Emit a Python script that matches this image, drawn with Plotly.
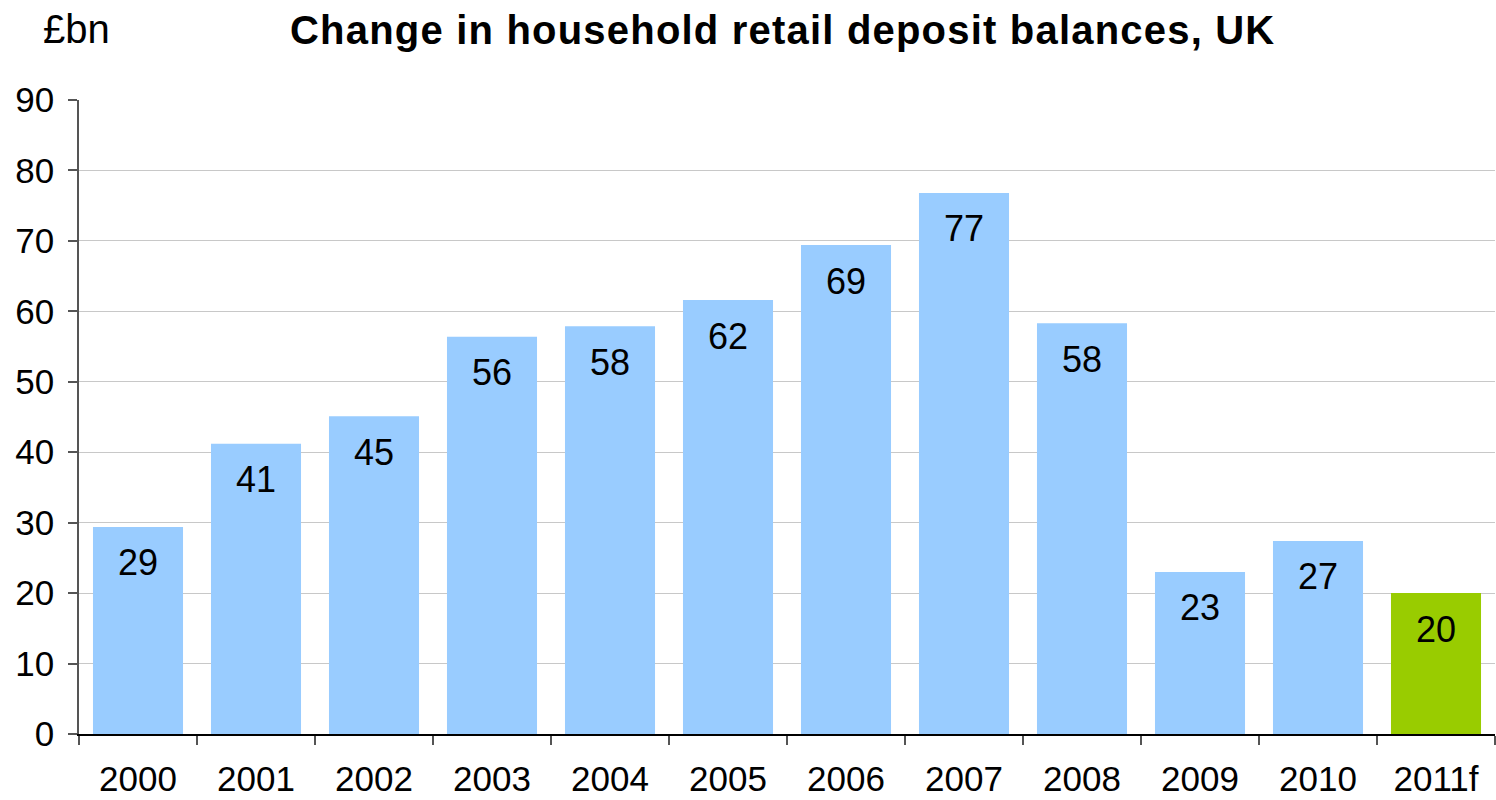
import plotly.graph_objects as go

# Annual change in household retail deposit balances (£bn)
years = ["2000", "2001", "2002", "2003", "2004", "2005", "2006", "2007", "2008", "2009", "2010", "2011f"]
values = [29.4, 41.2, 45.1, 56.4, 57.9, 61.6, 69.4, 76.8, 58.3, 23.0, 27.4, 20.0]
forecast = [False] * 11 + [True]

y_ticks = list(range(0, 100, 10))

FONT = "Arial, 'Liberation Sans', sans-serif"
colors = ["#99CC00" if f else "#99CCFF" for f in forecast]

fig = go.Figure(
    go.Bar(
        x=years,
        y=values,
        marker=dict(color=colors, line=dict(width=0)),
        hoverinfo="x+y",
    )
)

# value labels sit inside each bar, just below its top (x given as category index)
for i, v in enumerate(values):
    fig.add_annotation(
        x=i, y=v, text=f"{v:.0f}", showarrow=False,
        yanchor="middle", yshift=-36,
        font=dict(family=FONT, size=36, color="#000000"),
    )

fig.add_annotation(
    xref="paper", yref="paper", x=0.4965, y=1, yshift=70, xanchor="center", yanchor="middle",
    text="<span style='letter-spacing:1.2px'><b>Change in household retail deposit balances, UK</b></span>",
    showarrow=False,
    font=dict(family=FONT, size=40, color="#000000"),
)
fig.add_annotation(
    xref="paper", yref="paper", x=0, y=1, xshift=-38, yshift=71, xanchor="left", yanchor="middle",
    text="£bn", showarrow=False,
    font=dict(family=FONT, size=40, color="#000000"),
)

fig.update_layout(
    width=1496, height=800,
    margin=dict(l=79, r=1, t=100, b=66, pad=0),
    paper_bgcolor="white", plot_bgcolor="white",
    bargap=0.237,
    showlegend=False,
    font=dict(family=FONT, size=35, color="#000000"),
    xaxis=dict(
        type="category", range=[-0.5, len(years) - 0.5], tickson="boundaries",
        ticks="outside", ticklen=9, tickangle=0,
        tickcolor="#555555", tickwidth=1.5, showline=True, linecolor="#000000", linewidth=1.5,
        showgrid=False, ticklabelstandoff=13, tickfont=dict(size=35),
    ),
    yaxis=dict(
        range=[0, 90], tickvals=y_ticks, ticks="outside", ticklen=9,
        tickcolor="#555555", tickwidth=1.5, showline=True, linecolor="#555555", linewidth=1.5,
        showgrid=True, gridcolor="#C8C8C8", gridwidth=1, zeroline=False,
        ticklabelstandoff=7, tickfont=dict(size=35),
    ),
)

fig.write_html("out.html")
